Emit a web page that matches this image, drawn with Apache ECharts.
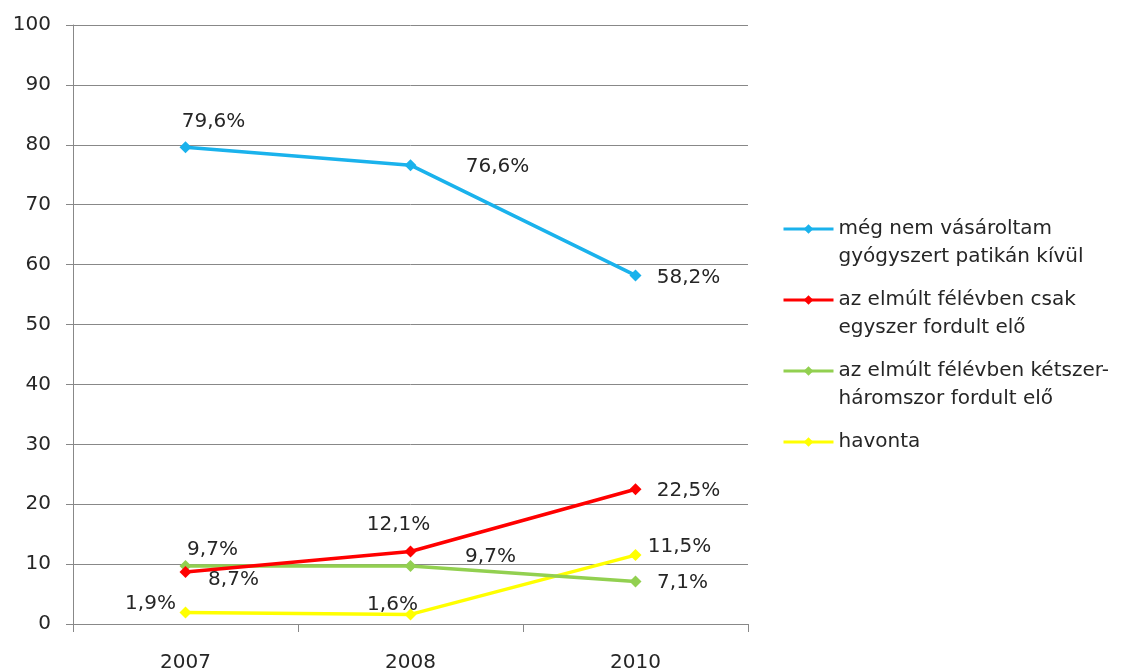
<!DOCTYPE html>
<html>
<head>
<meta charset="utf-8">
<style>
html, body {margin:0; padding:0; background:#fff;}
#chart {width:1123px; height:671px;}
</style>
<script src="https://cdn.jsdelivr.net/npm/echarts@6/dist/echarts.min.js"></script>
</head>
<body>
<div id="chart"></div>
<script type="text/javascript">
	// adatok
	var years = ['2007', '2008', '2010'];
	var seriesNames = [
		'még nem vásároltam\ngyógyszert patikán kívül',
		'az elmúlt félévben csak\negyszer fordult elő',
		'az elmúlt félévben kétszer-\nháromszor fordult elő',
		'havonta'
	];
	var neverBought = [79.6, 76.6, 58.2];
	var onceOnly = [8.7, 12.1, 22.5];
	var twoThree = [9.7, 9.7, 7.1];
	var monthly = [1.9, 1.6, 11.5];
	var colors = ['#1AB2EC', '#FF0000', '#92D050', '#FFFF00'];

	// címke eltolások pontonként
	var offsets = [
		[[28, -25], [87, 2], [53, 2]],
		[[48, 8], [-12, -27], [53, 2]],
		[[27, -16], [80, -9], [47, 1]],
		[[-35, -9], [-18, -10], [44, -8]]
	];

	var font = '"DejaVu Sans", sans-serif';

	function pct(v) {
		return v.toFixed(1).replace('.', ',') + '%';
	}

	function buildSeries(idx, values) {
		return {
			name: seriesNames[idx],
			type: 'line',
			data: values.map(function (v, i) {
				return {
					value: v,
					label: {offset: offsets[idx][i]}
				};
			}),
			symbol: 'diamond',
			symbolSize: 12,
			color: colors[idx],
			lineStyle: {width: 3.5, color: colors[idx]},
			itemStyle: {color: colors[idx]},
			z: 10 - idx,
			label: {
				show: true,
				position: 'inside',
				color: '#262626',
				fontFamily: font,
				fontSize: 20,
				formatter: function (p) { return pct(p.value); }
			},
			animation: false
		};
	}

	var dom = document.getElementById('chart');
	var myChart = echarts.init(dom);
	var option = {
		backgroundColor: '#fff',
		grid: {left: 73, right: 375, top: 25, bottom: 47, outerBoundsMode: 'none', containLabel: false},
		legend: {
			orient: 'vertical',
			left: 777,
			top: 182,
			itemWidth: 50,
			itemHeight: 12,
			itemGap: -13,
			data: seriesNames,
			lineStyle: {width: 3},
			formatter: function (name) {
				return name.indexOf('\n') >= 0 ? '\n' + name : '\n' + name + '\n ';
			},
			textStyle: {
				fontFamily: font,
				fontSize: 20,
				lineHeight: 28,
				color: '#262626'
			}
		},
		xAxis: {
			type: 'category',
			data: years,
			boundaryGap: true,
			axisLine: {lineStyle: {color: '#888', width: 1}},
			axisTick: {show: true, length: 8, lineStyle: {color: '#888'}},
			axisLabel: {
				margin: 29,
				color: '#262626',
				fontFamily: font,
				fontSize: 20
			}
		},
		yAxis: {
			type: 'value',
			min: 0,
			max: 100,
			interval: 10,
			axisLine: {show: true, lineStyle: {color: '#888', width: 1}},
			axisTick: {show: true, length: 7, lineStyle: {color: '#888'}},
			splitLine: {lineStyle: {color: '#888', width: 1}},
			axisLabel: {
				margin: 22,
				color: '#262626',
				fontFamily: font,
				fontSize: 20
			}
		},
		series: [
			buildSeries(0, neverBought),
			buildSeries(1, onceOnly),
			buildSeries(2, twoThree),
			buildSeries(3, monthly)
		],
		animation: false
	};
	myChart.setOption(option, true);
</script>
</body>
</html>
